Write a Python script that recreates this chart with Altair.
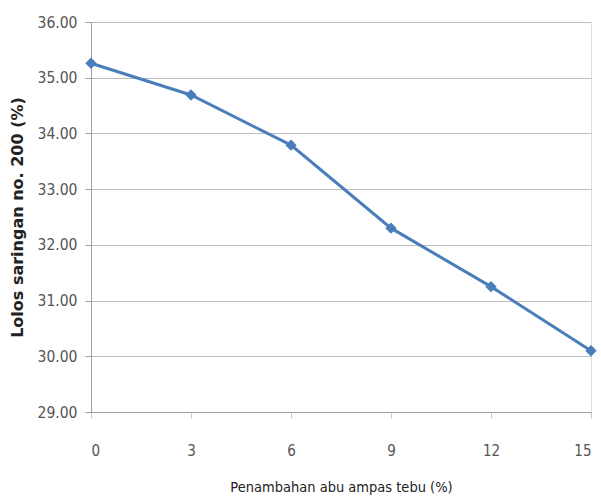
import altair as alt
import pandas as pd

x_vals = [0, 3, 6, 9, 12, 15]
y_vals = [35.26, 34.69, 33.79, 32.30, 31.25, 30.10]
x_ticks = [0, 3, 6, 9, 12, 15]
y_ticks = [29, 30, 31, 32, 33, 34, 35, 36]

df = pd.DataFrame({"x": x_vals, "y": y_vals})

LAB_FONT = "DejaVu Sans Condensed, Open Sans"
BLUE = "#4A7EBB"

base = alt.Chart(df).encode(
    x=alt.X("x:Q",
            scale=alt.Scale(domain=[0, 15], nice=False, zero=False),
            axis=alt.Axis(values=x_ticks, title="Penambahan abu ampas tebu (%)",
                          grid=False, domainColor="#A0A0A0", tickColor="#C8C8C8",
                          tickSize=6, labelPadding=25, labelFont=LAB_FONT,
                          labelFontSize=15, labelColor="#555555",
                          titleFont=LAB_FONT, titleFontSize=14.5, titleFontWeight="normal",
                          titleColor="#222222", titlePadding=22)),
    y=alt.Y("y:Q",
            scale=alt.Scale(domain=[29, 36], nice=False, zero=False),
            axis=alt.Axis(values=y_ticks, format=".2f",
                          title="Lolos saringan no. 200 (%)",
                          grid=True, gridColor="#BEBEBE", domainColor="#A0A0A0",
                          tickColor="#A0A0A0", tickSize=6, labelPadding=8,
                          labelFont=LAB_FONT, labelFontSize=15.5, labelColor="#555555",
                          titleFont="DejaVu Sans, Open Sans", titleFontSize=16,
                          titleFontWeight="bold", titleColor="#222222", titlePadding=12)),
)

line = base.mark_line(color=BLUE, strokeWidth=3)
pts = base.mark_point(shape="diamond", filled=True, color=BLUE, size=130, opacity=1)

chart = (line + pts).properties(
    width=500, height=390,
    padding={"left": 91, "top": 22, "right": 10, "bottom": 87},
    autosize=alt.AutoSizeParams(type="none"),
).configure_view(stroke=None).configure(background="white")

chart.save("out.html", embed_options={"renderer": "svg", "actions": False})
